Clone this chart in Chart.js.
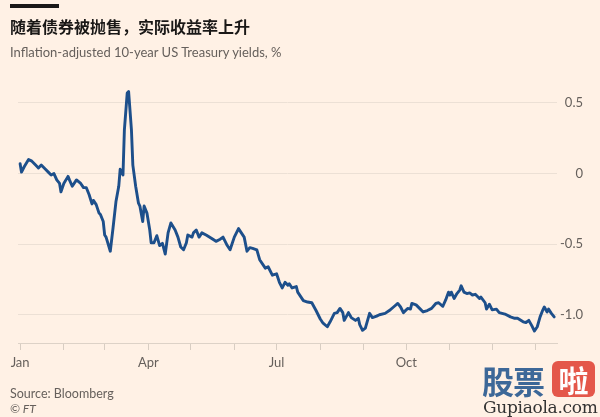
<!DOCTYPE html>
<html>
<head>
<meta charset="utf-8">
<script src="https://cdn.jsdelivr.net/npm/chart.js@4"></script>
<style>
  html, body { margin: 0; padding: 0; background: #fff1e5; }
  #wrap { position: relative; width: 600px; height: 417px; overflow: hidden; }
  #grafico { position: absolute; left: 0; top: 0; }
  .bar { position: absolute; left: 10px; top: 4px; width: 49px; height: 4px; background: #1a1817; }
  .titolo { position: absolute; left: 10px; top: 14px; font: bold 16px "Noto Sans CJK SC", sans-serif; color: #1a1817; white-space: nowrap; }
  .sotto { position: absolute; left: 10px; top: 44px; font: 13px Lato, sans-serif; color: #66605c; white-space: nowrap; }
  .fonte { position: absolute; left: 10px; top: 386px; font: 12.5px Lato, sans-serif; color: #66605c; }
  .ft { position: absolute; left: 10px; top: 401px; font: italic 12px Lato, sans-serif; color: #66605c; }
  .wm1 { position: absolute; left: 482px; top: 357px; font: bold 32px "Noto Sans CJK SC", sans-serif; color: #3d6898; letter-spacing: -1px; }
  .wm2 { position: absolute; left: 552px; top: 361px; width: 43px; height: 36px; border-radius: 6px; background: #e4574a; color: #fff; font: bold 30px "Noto Sans CJK SC", sans-serif; text-align: center; line-height: 36px; }
  .wm3 { position: absolute; left: 483px; top: 397px; font: 17px "DejaVu Serif", serif; color: #333; letter-spacing: -0.3px; }
</style>
</head>
<body>
<div id="wrap">
  <canvas id="grafico" width="600" height="417"></canvas>
  <div class="bar"></div>
  <div class="titolo">随着债券被抛售，实际收益率上升</div>
  <div class="sotto">Inflation-adjusted 10-year US Treasury yields, %</div>
  <div class="fonte">Source: Bloomberg</div>
  <div class="ft">© FT</div>
  <div class="wm1">股票</div>
  <div class="wm2">啦</div>
  <div class="wm3">Gupiaola.com</div>
</div>
<script>
// days counted from 1 Jan 2020
const days = [0, 1, 3, 6, 8, 11, 13, 15, 18, 20, 22, 24, 26, 28, 29, 31, 34, 35, 37, 40,
  43, 45, 47, 49, 51, 52, 54, 56, 57, 59, 60, 61, 64, 66, 68, 70, 71, 73, 74, 76,
  77, 79, 80, 82, 84, 85, 87, 88, 90, 92, 93, 95, 97, 99, 101, 103, 105, 107, 110, 112,
  114, 116, 118, 119, 122, 123, 125, 127, 129, 132, 136, 139, 142, 144, 147, 149, 152, 155, 157, 159,
  161, 163, 165, 168, 170, 174, 176, 179, 182, 184, 186, 188, 190, 191, 193, 196, 197, 201, 204, 207,
  210, 213, 215, 218, 220, 223, 225, 227, 229, 230, 233, 235, 238, 240, 241, 243, 245, 248, 250, 253,
  255, 259, 262, 265, 268, 270, 272, 275, 277, 278, 281, 284, 286, 289, 292, 295, 297, 300, 302, 304,
  305, 306, 308, 310, 312, 313, 315, 317, 319, 321, 323, 326, 327, 330, 331, 333, 335, 338, 340, 344,
  348, 351, 353, 357, 359, 361, 363, 365, 367, 369, 371, 372, 374, 375, 377, 379];
const yields = [0.07, 0.01, 0.05, 0.10, 0.09, 0.06, 0.04, 0.06, 0.03, 0.01, -0.01, 0.00, -0.045, -0.07, -0.13, -0.07, -0.02, -0.045, -0.09, -0.045,
  -0.07, -0.10, -0.10, -0.15, -0.215, -0.19, -0.22, -0.28, -0.29, -0.34, -0.435, -0.45, -0.55, -0.38, -0.20, -0.09, 0.03, -0.01, 0.31, 0.57,
  0.58, 0.31, 0.06, -0.09, -0.21, -0.23, -0.34, -0.23, -0.28, -0.40, -0.49, -0.49, -0.44, -0.51, -0.494, -0.57, -0.42, -0.35, -0.40, -0.45,
  -0.52, -0.54, -0.49, -0.435, -0.45, -0.42, -0.40, -0.45, -0.42, -0.435, -0.46, -0.48, -0.465, -0.45, -0.51, -0.54, -0.45, -0.39, -0.42, -0.45,
  -0.55, -0.525, -0.53, -0.54, -0.61, -0.67, -0.66, -0.72, -0.71, -0.77, -0.81, -0.77, -0.79, -0.78, -0.81, -0.80, -0.84, -0.90, -0.91, -0.915,
  -0.97, -1.03, -1.06, -1.085, -1.05, -0.99, -0.985, -0.955, -0.985, -1.04, -0.985, -1.02, -1.04, -1.025, -1.07, -1.11, -1.095, -0.99, -1.02, -1.01,
  -1.00, -0.99, -0.97, -0.945, -0.92, -0.945, -0.985, -0.955, -0.96, -0.92, -0.93, -0.96, -0.98, -0.97, -0.955, -0.92, -0.915, -0.94, -0.895, -0.84,
  -0.86, -0.84, -0.885, -0.85, -0.825, -0.795, -0.84, -0.85, -0.845, -0.86, -0.855, -0.885, -0.875, -0.915, -0.96, -0.925, -0.965, -0.96, -0.985, -0.995,
  -1.015, -1.025, -1.025, -1.05, -1.055, -1.04, -1.075, -1.115, -1.085, -1.015, -0.965, -0.945, -0.98, -0.96, -0.99, -1.015];

// month starts for the x ticks, only some get a label
const monthStarts = [0, 31, 60, 91, 121, 152, 182, 213, 244, 274, 305, 335, 366];
const monthLabels = ["Jan", "", "", "Apr", "", "", "Jul", "", "", "Oct", "", "", ""];
const yTicks = [0.5, 0, -0.5, -1.0];
const yLabels = ["0.5", "0", "-0.5", "-1.0"];

const grigio = "#66605c";

let punti = days.map((d, i) => ({ x: d, y: yields[i] }));

new Chart(document.getElementById("grafico"), {
  type: "line",
  data: {
    datasets: [{
      data: punti,
      borderColor: "#1d4f8b",
      borderWidth: 2.9,
      pointRadius: 0,
      tension: 0,
      borderJoinStyle: "round",
      borderCapStyle: "round"
    }]
  },
  options: {
    responsive: false,
    animation: false,
    layout: { padding: { left: 18, right: 17, top: 86, bottom: 0 } },
    plugins: { legend: { display: false }, tooltip: { enabled: false } },
    scales: {
      x: {
        type: "linear",
        min: -1.5,
        max: 381,
        afterBuildTicks: (scale) => { scale.ticks = monthStarts.map(v => ({ value: v })); },
        afterFit: (scale) => { scale.height = 74; },
        grid: { drawOnChartArea: false, drawTicks: true, tickLength: 7, tickColor: "#d8cdc2" },
        border: { display: true, color: "#ddd2c7", width: 1 },
        ticks: {
          autoSkip: false,
          maxRotation: 0,
          padding: 5,
          color: grigio,
          font: { family: "Lato", size: 13 },
          callback: (v, i) => monthLabels[i]
        }
      },
      y: {
        position: "right",
        min: -1.2,
        max: 0.62,
        afterBuildTicks: (scale) => { scale.ticks = yTicks.map(v => ({ value: v })); },
        afterFit: (scale) => { scale.width = 26; },
        grid: { color: "#ece0d5", lineWidth: 1, drawTicks: false },
        border: { display: false },
        ticks: {
          crossAlign: "far",
          padding: 4,
          color: grigio,
          font: { family: "Lato", size: 13 },
          callback: (v, i) => yLabels[i]
        }
      }
    }
  }
});
</script>
</body>
</html>
